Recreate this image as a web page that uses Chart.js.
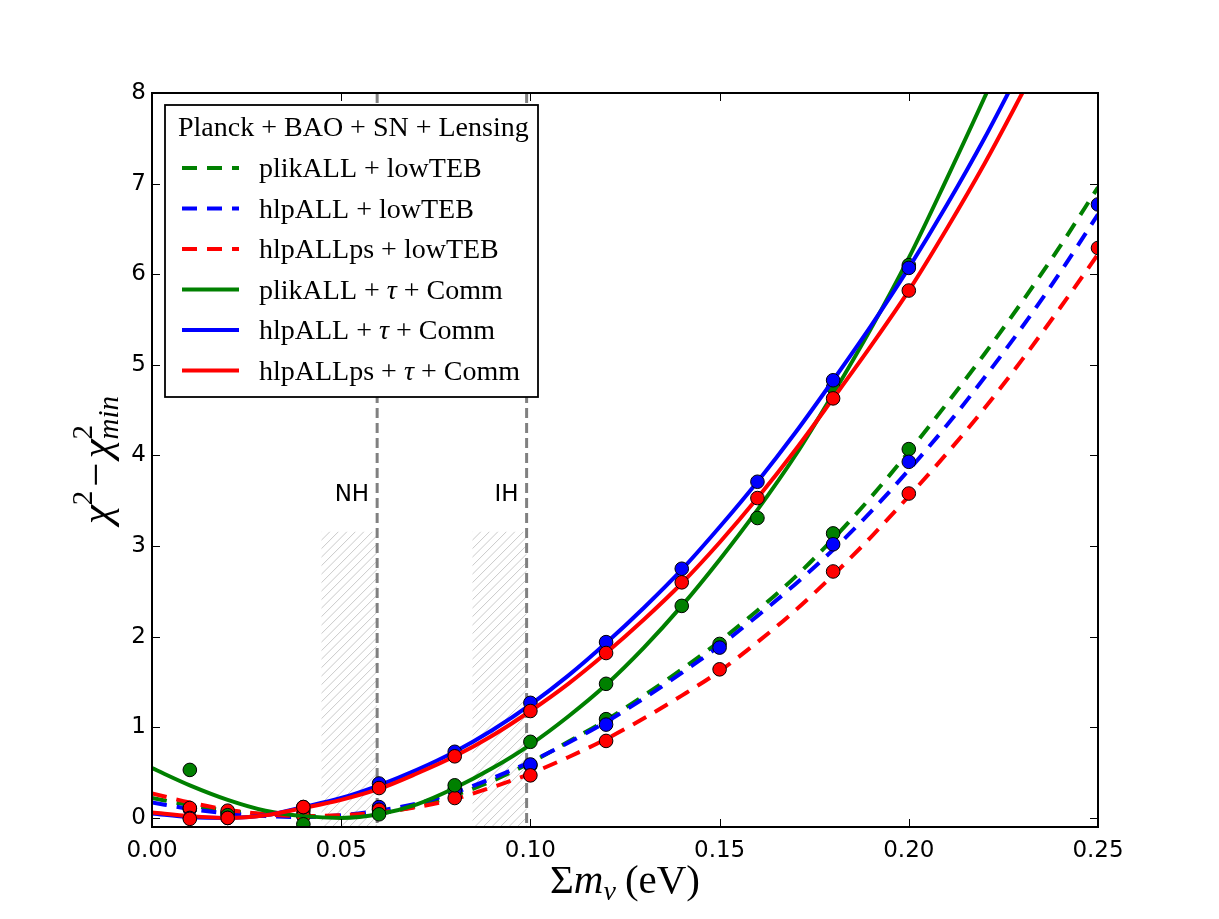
<!DOCTYPE html>
<html><head><meta charset="utf-8">
<script src="https://cdn.jsdelivr.net/npm/chart.js@4.4.1/dist/chart.umd.min.js"></script>
<style>html,body{margin:0;padding:0;background:#fff;}#wrap{width:1219px;height:919px;}</style>
</head><body><div id="wrap"><canvas id="c" width="1219" height="919"></canvas></div>
<script>
// ---------------- data ----------------
const curveX = [0.00,0.01,0.02,0.03,0.04,0.05,0.06,0.07,0.08,0.09,0.10,0.11,0.12,0.13,0.14,0.15,0.16,0.17,0.18,0.19,0.20,0.21,0.22,0.23,0.24,0.25];
const plikLowTEBCurve   = [0.22,0.14,0.08,0.04,0.02,0.02,0.05,0.13,0.25,0.41,0.61,0.84,1.08,1.35,1.64,1.95,2.29,2.66,3.08,3.54,4.04,4.57,5.12,5.70,6.31,6.96];
const hlpLowTEBCurve    = [0.17,0.10,0.05,0.02,0.01,0.03,0.08,0.16,0.28,0.44,0.62,0.83,1.06,1.32,1.60,1.90,2.23,2.58,2.96,3.38,3.84,4.33,4.86,5.42,6.02,6.66];
const hlpPsLowTEBCurve  = [0.27,0.17,0.09,0.04,0.02,0.03,0.06,0.12,0.21,0.34,0.49,0.67,0.87,1.10,1.35,1.62,1.94,2.29,2.68,3.10,3.55,4.02,4.52,5.06,5.63,6.22];
const plikCommCurve     = [0.55,0.36,0.20,0.08,0.02,0.00,0.04,0.15,0.33,0.55,0.81,1.12,1.47,1.88,2.34,2.85,3.40,4.00,4.68,5.40,6.18,7.05,7.95,8.90];
const hlpCommCurve      = [0.05,0.01,0.00,0.03,0.12,0.22,0.36,0.53,0.73,0.97,1.25,1.57,1.93,2.32,2.74,3.21,3.71,4.25,4.83,5.43,6.07,6.76,7.50,8.30];
const hlpPsCommCurve    = [0.06,0.02,0.00,0.03,0.11,0.20,0.32,0.49,0.68,0.91,1.18,1.48,1.82,2.19,2.59,3.04,3.53,4.06,4.63,5.21,5.82,6.50,7.22,8.00,8.80];

const lowTEBPtsX = [0.01,0.02,0.04,0.06,0.08,0.10,0.12,0.15,0.18,0.20,0.25];
const plikLowTEBPts  = [0.10,0.06,0.08,0.10,0.30,0.58,1.09,1.92,3.14,4.07,null];
const hlpLowTEBPts   = [0.10,0.05,0.03,0.12,0.31,0.59,1.03,1.88,3.02,3.93,6.77];
const hlpPsLowTEBPts = [0.11,0.08,0.02,0.09,0.22,0.47,0.85,1.64,2.72,3.58,6.29];

const commPtsX = [0.01,0.02,0.04,0.06,0.08,0.10,0.12,0.14,0.16,0.18,0.20];
const plikCommPts  = [0.53,0.03,-0.07,0.04,0.36,0.84,1.48,2.34,3.31,4.75,6.10];
const hlpCommPts   = [0.00,0.00,0.12,0.38,0.73,1.27,1.94,2.75,3.71,4.83,6.07];
const hlpPsCommPts = [-0.01,0.00,0.12,0.33,0.68,1.18,1.82,2.60,3.53,4.63,5.82];

const seriesNames = ['plikALL + lowTEB','hlpALL + lowTEB','hlpALLps + lowTEB','plikALL + τ + Comm','hlpALL + τ + Comm','hlpALLps + τ + Comm'];
const legendTitle = 'Planck + BAO + SN + Lensing';

const xTickVals = [0.00,0.05,0.10,0.15,0.20,0.25];
const xTickLabels = ['0.00','0.05','0.10','0.15','0.20','0.25'];
const yTickVals = [0,1,2,3,4,5,6,7,8];
const yTickLabels = ['0','1','2','3','4','5','6','7','8'];

const hierarchyNames = ['NH','IH'];
const hierarchyMass = [0.0595,0.099];
const hatchRegions = [[0.0448,0.0595],[0.0847,0.099]];
const hatchTop = 3.16;
const hierarchyLabelY = 3.5;

// ---------------- styles ----------------
const GREEN='#008000', BLUE='#0000ff', RED='#ff0000';
const DASH=[15,10];
const SERIF='"Liberation Serif", "Times New Roman", serif';
const LW=4;

function curveDS(xs, ys, color, dash){
  return {type:'line', data: ys.map((v,i)=>({x:xs[i],y:v})), borderColor:color, backgroundColor:color,
    borderWidth:LW, borderDash:dash, pointRadius:0, fill:false, cubicInterpolationMode:'monotone', clip:0};
}
function ptsDS(xs, ys, color){
  const d=[]; ys.forEach((v,i)=>{ if(v!==null) d.push({x:xs[i],y:v}); });
  return {type:'line', showLine:false, data:d, pointRadius:6.8, pointBorderWidth:1, pointBorderColor:'#000',
    pointBackgroundColor:color, borderColor:color, clip:0};
}

const seriesStyles = [
  {c:GREEN,d:DASH},{c:BLUE,d:DASH},{c:RED,d:DASH},{c:GREEN,d:[]},{c:BLUE,d:[]},{c:RED,d:[]}
];

// drawing order: first listed drawn first (bottom)
const drawList = [
  curveDS(curveX, plikLowTEBCurve, GREEN, DASH),
  ptsDS(lowTEBPtsX, plikLowTEBPts, GREEN),
  curveDS(curveX, hlpLowTEBCurve, BLUE, DASH),
  ptsDS(lowTEBPtsX, hlpLowTEBPts, BLUE),
  curveDS(curveX, hlpPsLowTEBCurve, RED, DASH),
  ptsDS(lowTEBPtsX, hlpPsLowTEBPts, RED),
  curveDS(curveX, plikCommCurve, GREEN, []),
  ptsDS(commPtsX, plikCommPts, GREEN),
  curveDS(curveX, hlpCommCurve, BLUE, []),
  ptsDS(commPtsX, hlpCommPts, BLUE),
  curveDS(curveX, hlpPsCommCurve, RED, []),
  ptsDS(commPtsX, hlpPsCommPts, RED),
];
drawList.forEach((ds,k)=>{ ds.order = 100 - k; });

function drawSegs(ctx, segs, x, y, align){
  const widths = segs.map(s=>{
    const parts = s.stack || [s];
    return Math.max(...parts.map(q=>{ctx.font=q.f; return ctx.measureText(q.t).width;})) + (s.gap||0);
  });
  const total = widths.reduce((a,b)=>a+b,0);
  let cx = align==='center' ? x-total/2 : x;
  ctx.textAlign='left'; ctx.textBaseline='alphabetic';
  segs.forEach((s,i)=>{
    (s.stack||[s]).forEach(q=>{ ctx.font=q.f; ctx.fillText(q.t, cx, y+(q.dy||0)); });
    cx += widths[i];
  });
}
function labelSegs(text, size){
  const segs=[]; const parts=text.split('τ');
  parts.forEach((p,i)=>{
    if(p) segs.push({t:p, f:size+'px '+SERIF});
    if(i<parts.length-1) segs.push({t:'τ', f:'italic '+size+'px '+SERIF});
  });
  return segs;
}

const overlay = {
  id:'overlay',
  beforeDatasetsDraw(chart){
    const {ctx, chartArea:a, scales:{x,y}} = chart;
    ctx.save();
    ctx.beginPath(); ctx.rect(a.left,a.top,a.right-a.left,a.bottom-a.top); ctx.clip();
    hatchRegions.forEach(([x0,x1])=>{
      const px0=x.getPixelForValue(x0), px1=x.getPixelForValue(x1);
      const py0=y.getPixelForValue(hatchTop), py1=a.bottom;
      ctx.save(); ctx.beginPath(); ctx.rect(px0,py0,px1-px0,py1-py0); ctx.clip();
      ctx.strokeStyle='#bcbcbc'; ctx.lineWidth=0.8;
      const h=py1-py0;
      for(let s=px0-h; s<px1+8; s+=8.5){ ctx.beginPath(); ctx.moveTo(s,py1); ctx.lineTo(s+h,py0); ctx.stroke(); }
      ctx.restore();
    });
    ctx.setLineDash([10,5]); ctx.strokeStyle='#808080'; ctx.lineWidth=3;
    hierarchyMass.forEach(v=>{ const px=x.getPixelForValue(v); ctx.beginPath(); ctx.moveTo(px,a.top); ctx.lineTo(px,a.bottom); ctx.stroke(); });
    ctx.setLineDash([]);
    ctx.fillStyle='#000'; ctx.font='23px "DejaVu Sans"'; ctx.textAlign='right'; ctx.textBaseline='alphabetic';
    hierarchyNames.forEach((n,i)=>ctx.fillText(n, x.getPixelForValue(hierarchyMass[i])-8, y.getPixelForValue(hierarchyLabelY)));
    ctx.restore();
  },
  afterDraw(chart){
    const {ctx, chartArea:a, scales:{x,y}} = chart;
    ctx.save();
    // inward ticks
    ctx.strokeStyle='#000'; ctx.lineWidth=1;
    xTickVals.forEach(v=>{ const px=Math.round(x.getPixelForValue(v))+0.5;
      ctx.beginPath(); ctx.moveTo(px,a.bottom); ctx.lineTo(px,a.bottom-8); ctx.moveTo(px,a.top); ctx.lineTo(px,a.top+8); ctx.stroke(); });
    yTickVals.forEach(v=>{ const py=Math.round(y.getPixelForValue(v))+0.5;
      ctx.beginPath(); ctx.moveTo(a.left,py); ctx.lineTo(a.left+8,py); ctx.moveTo(a.right,py); ctx.lineTo(a.right-8,py); ctx.stroke(); });
    // frame
    ctx.lineWidth=2; ctx.strokeRect(a.left,a.top,a.right-a.left,a.bottom-a.top);
    // legend
    const L={x:165,y:105,w:373,h:292};
    ctx.fillStyle='#fff'; ctx.fillRect(L.x,L.y,L.w,L.h);
    ctx.lineWidth=1.8; ctx.strokeStyle='#000'; ctx.strokeRect(L.x,L.y,L.w,L.h);
    ctx.fillStyle='#000';
    drawSegs(ctx, labelSegs(legendTitle,28), 178, 136);
    seriesNames.forEach((n,i)=>{
      const ly = 168 + i*40.5;
      ctx.save(); ctx.strokeStyle=seriesStyles[i].c; ctx.lineWidth=LW; ctx.setLineDash(seriesStyles[i].d);
      ctx.beginPath(); ctx.moveTo(182,ly); ctx.lineTo(239,ly); ctx.stroke(); ctx.restore();
      ctx.fillStyle='#000';
      drawSegs(ctx, labelSegs(n,28), 259, ly+9);
    });
    // axis titles
    const big='41px '+SERIF, bigI='italic 41px '+SERIF, smI='italic 28px '+SERIF, sm='28px '+SERIF;
    drawSegs(ctx, [{t:'Σ',f:big},{t:'m',f:bigI},{t:'ν',f:smI,dy:7,gap:9},{t:'(eV)',f:big}], (a.left+a.right)/2, 893, 'center');
    ctx.translate(110,(a.top+a.bottom)/2); ctx.rotate(-Math.PI/2);
    const yBig='43px '+SERIF, yBigI='italic 43px '+SERIF, ySm='29px '+SERIF, ySmI='italic 29px '+SERIF;
    drawSegs(ctx, [{t:'χ',f:yBigI},{t:'2',f:ySm,dy:-18,gap:4},{t:'−',f:yBig,gap:4},{t:'χ',f:yBigI},
      {stack:[{t:'2',f:ySm,dy:-18},{t:'min',f:ySmI,dy:8}]}], 0, 0, 'center');
    ctx.restore();
  }
};

new Chart(document.getElementById('c'), {
  type:'line',
  data:{datasets:drawList},
  options:{
    responsive:false, animation:false, events:[],
    layout:{padding:{left:0,top:93,right:121,bottom:0}},
    plugins:{legend:{display:false}, tooltip:{enabled:false}},
    scales:{
      x:{type:'linear', min:0, max:0.25,
        afterBuildTicks:s=>{ s.ticks = xTickVals.map(v=>({value:v})); },
        afterFit:s=>{ s.height=92; },
        grid:{display:false, drawTicks:false}, border:{display:false},
        ticks:{autoSkip:false, maxRotation:0, padding:10, color:'#000', font:{family:'DejaVu Sans', size:23},
          callback:(v,i)=>xTickLabels[i]}},
      y:{type:'linear', min:-0.1, max:8,
        afterBuildTicks:s=>{ s.ticks = yTickVals.map(v=>({value:v})); },
        afterFit:s=>{ s.width=152; },
        grid:{display:false, drawTicks:false}, border:{display:false},
        ticks:{autoSkip:false, padding:6, color:'#000', font:{family:'DejaVu Sans', size:23},
          callback:(v,i)=>yTickLabels[i]}}
    }
  },
  plugins:[overlay]
});
</script></body></html>
